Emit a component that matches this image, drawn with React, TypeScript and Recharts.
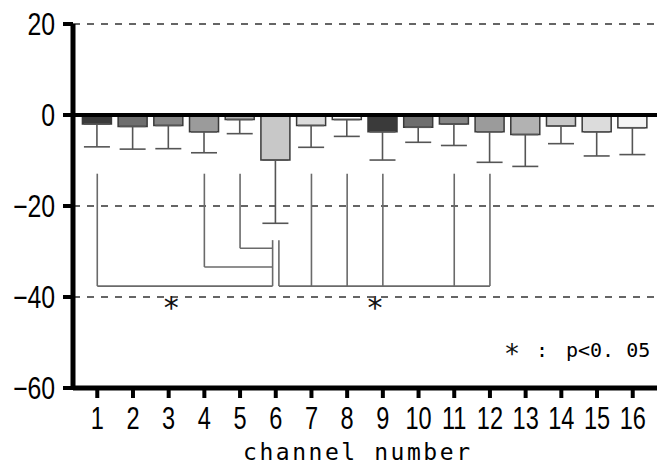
import React from "react";
import {
  ComposedChart,
  Bar,
  Cell,
  ErrorBar,
  XAxis,
  YAxis,
  CartesianGrid,
  ReferenceLine,
  ReferenceDot,
} from "recharts";

// ── Data ──────────────────────────────────────────────────────────────────────
const CHANNELS = [1, 2, 3, 4, 5, 6, 7, 8, 9, 10, 11, 12, 13, 14, 15, 16];
const MEAN_CHANGE = [-2.0, -2.5, -2.3, -3.7, -1.0, -9.9, -2.3, -1.0, -3.7, -2.7, -2.0, -3.7, -4.3, -2.4, -3.7, -2.8];
const SD = [5.0, 5.0, 5.1, 4.6, 3.1, 13.9, 4.8, 3.7, 6.2, 3.3, 4.7, 6.7, 7.0, 3.9, 5.3, 5.9];
const BAR_FILLS = [
  "#3a3a3a", "#6e6e6e", "#858585", "#9b9b9b", "#b2b2b2", "#c8c8c8", "#dcdcdc", "#ffffff",
  "#3a3a3a", "#6e6e6e", "#858585", "#9b9b9b", "#b2b2b2", "#c8c8c8", "#dcdcdc", "#f4f4f4",
];
const Y_TICKS = [-60, -40, -20, 0, 20];

// significance brackets: channel 6 vs others
const REF_CHANNEL = 6;
const LEFT_PAIRS = [5, 4, 1];
const LEFT_LEVELS = [-29.3, -33.4, -37.6];
const RIGHT_PAIRS = [7, 8, 9, 11, 12];
const RIGHT_LEVEL = -37.6;
const BRACKET_TOP = -12.9;
const REF_TOP = -27.5;
const STARS = [
  { x: 3.07, y: -40.9 },
  { x: 8.78, y: -40.9 },
];

const rows = CHANNELS.map((c, i) => ({
  channel: c,
  value: MEAN_CHANGE[i],
  err: [SD[i], 0],
}));

type Pt = { x: number; y: number };
const REF_OFF = 0.088;
const segments: [Pt, Pt][] = [];
LEFT_PAIRS.forEach((c, i) => {
  const lv = LEFT_LEVELS[i];
  segments.push([{ x: c, y: BRACKET_TOP }, { x: c, y: lv }]);
  segments.push([{ x: c, y: lv }, { x: REF_CHANNEL - REF_OFF, y: lv }]);
});
segments.push([
  { x: REF_CHANNEL - REF_OFF, y: REF_TOP },
  { x: REF_CHANNEL - REF_OFF, y: Math.min(...LEFT_LEVELS) },
]);
segments.push([
  { x: REF_CHANNEL + REF_OFF, y: REF_TOP },
  { x: REF_CHANNEL + REF_OFF, y: RIGHT_LEVEL },
]);
segments.push([
  { x: REF_CHANNEL + REF_OFF, y: RIGHT_LEVEL },
  { x: Math.max(...RIGHT_PAIRS), y: RIGHT_LEVEL },
]);
RIGHT_PAIRS.forEach((c) => {
  segments.push([{ x: c, y: BRACKET_TOP }, { x: c, y: RIGHT_LEVEL }]);
});

const SANS = "'Liberation Sans', Arial, sans-serif";
const MONO = "'DejaVu Sans Mono', 'Liberation Mono', monospace";

// narrow-looking tick labels: regular sans squeezed horizontally
function XTick({ x, y, payload }: any) {
  return (
    <g transform={`translate(${x},${y + 25})`}>
      <text transform="scale(0.76,1)" textAnchor="middle" fontFamily={SANS} fontSize={31} fill="#000">
        {payload.value}
      </text>
    </g>
  );
}

function YTick({ x, y, payload }: any) {
  const label = String(payload.value).replace("-", "\u2212");
  return (
    <g transform={`translate(${x - 2},${y + 11})`}>
      <text transform="scale(0.8,1)" textAnchor="end" fontFamily={SANS} fontSize={31} fill="#000">
        {label}
      </text>
    </g>
  );
}

function Star({ cx, cy }: any) {
  return (
    <text
      x={cx}
      y={cy + 17}
      textAnchor="middle"
      fontFamily="'DejaVu Sans', sans-serif"
      fontSize={30}
      fill="#111"
    >
      *
    </text>
  );
}

export default function App() {
  return (
    <div style={{ position: "absolute", left: 0, top: 0, width: 657, height: 466, background: "#fff" }}>
      <ComposedChart
        width={657}
        height={466}
        data={rows}
        margin={{ top: 24, right: 0, left: 0, bottom: 0 }}
      >
        <CartesianGrid
          vertical={false}
          stroke="#333"
          strokeWidth={1.3}
          strokeDasharray="7 7"
        />
        <XAxis
          dataKey="channel"
          type="number"
          domain={[0.32, 16.68]}
          ticks={CHANNELS}
          interval={0}
          allowDataOverflow
          height={78}
          axisLine={{ stroke: "#000", strokeWidth: 5 }}
          tickLine={{ stroke: "#000", strokeWidth: 4 }}
          tickSize={10}
          tickMargin={6}
          tick={<XTick />}
        />
        <YAxis
          type="number"
          domain={[-60, 20]}
          ticks={Y_TICKS}
          interval={0}
          width={73}
          axisLine={{ stroke: "#000", strokeWidth: 5 }}
          tickLine={{ stroke: "#000", strokeWidth: 4 }}
          tickSize={10}
          tickMargin={6}
          tick={<YTick />}
        />
        {segments.map((s, i) => (
          <ReferenceLine
            key={`seg-${i}`}
            segment={s}
            stroke="#6a6a6a"
            strokeWidth={1.6}
            ifOverflow="visible"
          />
        ))}
        {STARS.map((s, i) => (
          <ReferenceDot
            key={`star-${i}`}
            x={s.x}
            y={s.y}
            r={0}
            ifOverflow="visible"
            shape={(p: any) => <Star {...p} />}
          />
        ))}
        <Bar
          dataKey="value"
          barSize={29}
          stroke="#3a3a3a"
          strokeWidth={1.5}
          isAnimationActive={false}
        >
          {rows.map((_, i) => (
            <Cell key={`c-${i}`} fill={BAR_FILLS[i]} />
          ))}
          <ErrorBar dataKey="err" width={13} stroke="#555" strokeWidth={1.6} direction="y" />
        </Bar>
        <ReferenceLine y={0} stroke="#000" strokeWidth={4} />
      </ComposedChart>
      <svg
        width={657}
        height={466}
        style={{ position: "absolute", left: 0, top: 0, pointerEvents: "none" }}
      >
        {/* axis title */}
        <text
          x={243}
          y={460}
          fontFamily={MONO}
          fontSize={23}
          fill="#000"
          textLength={227}
          lengthAdjust="spacing"
        >
          channel number
        </text>
        {/* significance legend */}
        <text x={512} y={363} textAnchor="middle" fontFamily="'DejaVu Sans', sans-serif" fontSize={27} fill="#111">
          *
        </text>
        <text x={542} y={357} textAnchor="middle" fontFamily={MONO} fontSize={20} fill="#000">
          :
        </text>
        <text x={566} y={357} fontFamily={MONO} fontSize={20} fill="#000" style={{ whiteSpace: "pre" }}>
          {"p<0. 05"}
        </text>
      </svg>
    </div>
  );
}
